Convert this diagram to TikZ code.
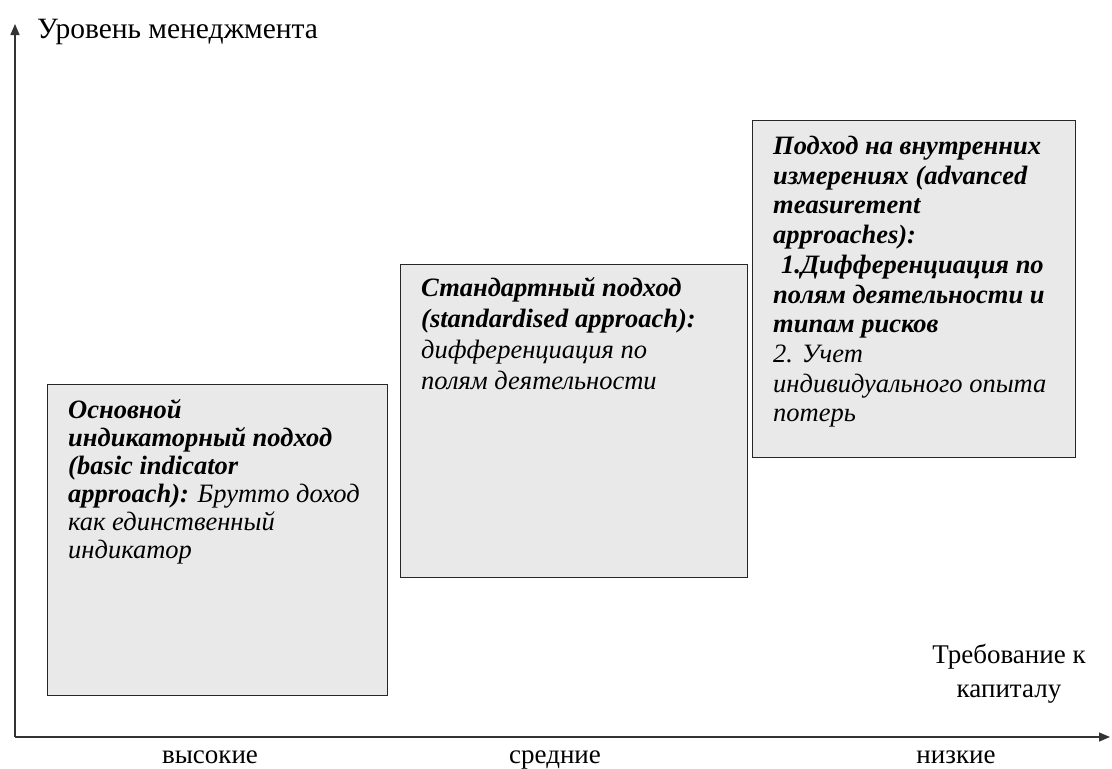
\documentclass[tikz,border=0pt]{standalone}
\usepackage{fontspec}
\setmainfont{Liberation Serif}
\usetikzlibrary{arrows.meta}
\begin{document}
\begin{tikzpicture}[x=1pt,y=-1pt,
  box/.style={draw=black!85, line width=1.3pt, fill=black!8.5, anchor=north west, inner sep=0pt},
  boxtext/.style={anchor=north west, align=left, inner sep=0pt, font=\fontsize{26.5}{#1}\selectfont\itshape},
  axis/.style={line width=1.3pt, draw=black!80, -{Triangle[length=11pt,width=9pt]}},
  lbl/.style={font=\fontsize{27}{34}\selectfont, inner sep=0pt}]
\useasboundingbox (0,0) rectangle (1112,769);
% axes
\coordinate (o) at (15,737);
\coordinate (ytip) at (15,24);
\coordinate (xtip) at (1110,737);
\draw[axis] (o) -- (ytip);
\draw[axis] (o) -- (xtip);
% axis captions
\node[lbl, font=\fontsize{29.5}{33}\selectfont, anchor=base west] (ylab) at (37,38) {Уровень менеджмента};
\node[lbl, anchor=base, align=center] (xlab) at (1009,697) {Требование к\\капиталу};
\node[lbl, anchor=base] (hi) at (210,763) {высокие};
\node[lbl, anchor=base] (mid) at (555,763) {средние};
\node[lbl, anchor=base] (lo) at (956,763) {низкие};
% approach boxes
\node[box, minimum width=340pt, minimum height=311pt] (b1) at (47,384) {};
\node[box, minimum width=347pt, minimum height=313pt] (b2) at (400,264) {};
\node[box, minimum width=323pt, minimum height=337pt] (b3) at (752,120) {};
\node[boxtext=28] (t1) at ([xshift=21pt,yshift=-15pt]b1.north west) {%
\textbf{Основной}\\
\textbf{индикаторный подход}\\
\textbf{(basic indicator}\\
\textbf{approach):} Брутто доход\\
как единственный\\
индикатор};
\node[boxtext=31] (t2) at ([xshift=21pt,yshift=-13pt]b2.north west) {%
\textbf{Стандартный подход}\\
\textbf{(standardised approach):}\\
дифференциация по\\
полям деятельности};
\node[boxtext=29.7] (t3) at ([xshift=21pt,yshift=-16pt]b3.north west) {%
\textbf{Подход на внутренних}\\
\textbf{измерениях (advanced}\\
\textbf{measurement}\\
\textbf{approaches):}\\
\hspace*{0.3em}\textbf{1.Дифференциация по}\\
\textbf{полям деятельности и}\\
\textbf{типам рисков}\\
2. Учет\\
индивидуального опыта\\
потерь};
\end{tikzpicture}
\end{document}
